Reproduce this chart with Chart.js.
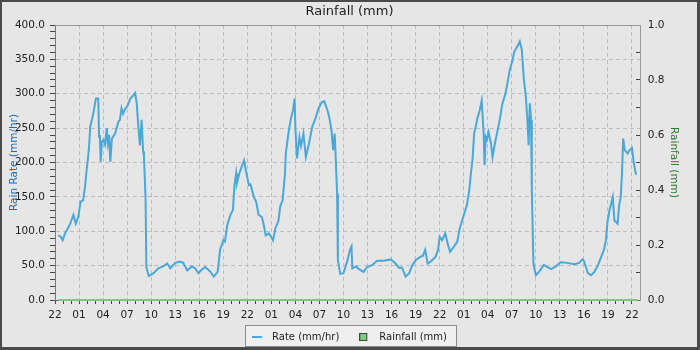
<!DOCTYPE html>
<html>
<head>
<meta charset="utf-8">
<title>Rainfall (mm)</title>
<script src="https://cdn.jsdelivr.net/npm/chart.js@4.4.1/dist/chart.umd.min.js"></script>
<style>
  html, body { margin: 0; padding: 0; background: #e6e6e6; }
  #frame {
    width: 700px; height: 350px; box-sizing: border-box;
    border-style: solid; border-color: #4a4a4a; border-width: 2px 3px 3px 2px;
    background: #e6e6e6;
  }
  canvas { display: block; }
</style>
</head>
<body>
<div id="frame"><canvas id="chart" width="695" height="345"></canvas></div>
<script>
// hours counted from 22:00 on the first day
const rateHours = [
  0.4, 0.7, 0.96, 1.25, 1.6, 1.9, 2.3, 2.6, 2.9, 3.2, 3.5, 3.75, 3.9, 4.1, 4.25, 4.4, 4.7, 4.9,
  5.1, 5.4, 5.5, 5.6, 5.7, 5.85, 6.05, 6.25, 6.45, 6.6, 6.75, 6.9, 7.1, 7.5, 7.9, 8.1, 8.3, 8.5,
  8.75, 9.0, 9.4, 9.8, 10.0, 10.2, 10.4, 10.6, 10.8, 11.0, 11.1, 11.3, 11.4, 11.7, 12.0, 12.3,
  12.9, 13.5, 14.0, 14.4, 15.0, 15.6, 16.0, 16.5, 17.1, 17.5, 17.9, 18.3, 18.75, 19.4, 19.8,
  20.3, 20.6, 21.0, 21.2, 21.5, 21.9, 22.2, 22.4, 22.6, 22.7, 23.0, 23.3, 23.6, 23.8, 24.2,
  24.4, 24.8, 25.1, 25.4, 25.8, 26.0, 26.3, 26.7, 27.2, 27.5, 27.9, 28.1, 28.4, 28.7, 28.8,
  29.1, 29.4, 29.7, 29.9, 30.0, 30.2, 30.5, 30.7, 31.0, 31.3, 31.7, 32.1, 32.5, 32.9, 33.3,
  33.6, 34.0, 34.2, 34.5, 34.7, 34.9, 35.0, 35.2, 35.3, 35.6, 36.0, 36.5, 36.8, 37.0, 37.1,
  37.6, 37.8, 38.5, 38.95, 39.6, 40.2, 41.0, 41.9, 42.5, 42.9, 43.3, 43.75, 44.2, 44.6, 45.0,
  45.6, 45.9, 46.2, 46.5, 46.9, 47.5, 47.8, 48.0, 48.3, 48.7, 49.0, 49.3, 49.8, 50.2, 50.5,
  50.95, 51.4, 51.7, 51.9, 52.1, 52.3, 52.5, 52.7, 53.0, 53.25, 53.5, 53.6, 53.75, 53.9, 54.1,
  54.4, 54.6, 54.9, 55.2, 55.5, 55.8, 56.2, 56.5, 56.75, 57.1, 57.3, 57.7, 58.0, 58.25, 58.5,
  58.75, 58.95, 59.1, 59.25, 59.4, 59.5, 59.7, 60.0, 60.4, 61.0, 61.4, 61.9, 62.5, 63.1,
  63.95, 64.8, 65.4, 65.8, 66.0, 66.5, 66.9, 67.3, 67.7, 68.1, 68.5, 68.75, 68.95, 69.2, 69.4,
  69.6, 69.8, 70.2, 70.4, 70.6, 70.75, 70.9, 71.1, 71.45, 71.7, 72.0, 72.2, 72.5
];
const rateValues = [
  94, 92, 87, 97, 104, 111, 124, 111, 121, 143, 145, 165, 184, 204, 223, 252, 267, 279,
  293, 293, 237, 240, 201, 230, 233, 226, 250, 228, 240, 201, 235, 242, 259, 262, 279, 271,
  278, 281, 293, 298, 301, 286, 252, 225, 262, 216, 210, 148, 48, 35, 37, 39,
  46, 49, 53, 46, 54, 56, 54, 43, 49, 46, 39, 44, 48, 41, 34,
  41, 73, 87, 85, 109, 124, 131, 167, 184, 170, 184, 194, 203, 189, 167,
  168, 150, 143, 124, 121, 112, 94, 97, 87, 104, 116, 136, 145, 184, 213,
  240, 262, 276, 293, 250, 206, 237, 224, 242, 208, 228, 252, 264, 279, 288,
  289, 276, 267, 247, 218, 242, 216, 155, 58, 38, 39, 58, 73, 78, 46,
  49, 46, 41, 48, 51, 57, 57, 59, 53, 47, 47, 34, 39, 51, 58,
  63, 64, 73, 53, 56, 63, 73, 92, 87, 97, 82, 70, 78, 85, 104,
  121, 138, 160, 184, 204, 242, 252, 264, 276, 290, 240, 196, 237, 233, 244,
  228, 208, 228, 245, 262, 284, 300, 318, 335, 349, 361, 369, 376, 364, 322,
  296, 262, 225, 286, 262, 160, 53, 36, 41, 51, 48, 45, 49, 55,
  54, 52, 54, 59, 57, 39, 36, 41, 49, 61, 73, 87, 114, 131, 140,
  150, 116, 111, 138, 150, 184, 235, 218, 213, 218, 221, 201, 182
];
const rainHours = [0.4, 12, 24, 36, 48, 60, 72.7];
const rainValues = [0, 0, 0, 0, 0, 0, 0];

// one label every 3 hours, starting at hour 0
const hourLabels = [
  "22", "01", "04", "07", "10", "13", "16", "19",
  "22", "01", "04", "07", "10", "13", "16", "19",
  "22", "01", "04", "07", "10", "13", "16", "19", "22"
];

Chart.defaults.font.family = "'DejaVu Sans', sans-serif";
Chart.defaults.font.size = 10.5;
Chart.defaults.color = "#222";

const GRID = "#bdbdbd";
const NONE = "rgba(0,0,0,0)";

// small pictures used as legend markers (drawn at the left of a 15px box)
function marker(w, h, fill, stroke) {
  const c = document.createElement("canvas");
  c.width = 15;
  c.height = h;
  const g = c.getContext("2d");
  g.fillStyle = fill;
  g.fillRect(0, 0, w, h);
  if (stroke) {
    g.strokeStyle = stroke;
    g.lineWidth = 1;
    g.strokeRect(0.5, 0.5, w - 1, h - 1);
  }
  return c;
}
const legendMarkers = [marker(10, 2, "#4aa8d8"), marker(8, 8, "#78d078", "#444")];

// legend frame, top edge of the plot, room for the hour labels
const decorations = {
  id: "decorations",
  afterLayout(chart) {
    chart.scales.x.bottom = 322;
  },
  beforeDraw(chart) {
    const boxes = chart.legend && chart.legend.legendHitBoxes;
    if (!boxes || !boxes.length) return;
    const left = Math.round(Math.min(...boxes.map((b) => b.left)) - 7);
    const right = Math.round(Math.max(...boxes.map((b) => b.left + b.width)) + 9);
    const ctx = chart.ctx;
    ctx.save();
    ctx.fillStyle = "#efefef";
    ctx.fillRect(left, 323, right - left, 22);
    ctx.strokeStyle = "#8c8c8c";
    ctx.lineWidth = 1;
    ctx.strokeRect(left + 0.5, 323.5, right - left, 21);
    ctx.restore();
  },
  beforeDatasetsDraw(chart) {
    const { ctx, chartArea } = chart;
    ctx.save();
    ctx.strokeStyle = "#999";
    ctx.lineWidth = 1;
    ctx.beginPath();
    ctx.moveTo(chartArea.left, chartArea.top + 0.5);
    ctx.lineTo(chartArea.right, chartArea.top + 0.5);
    ctx.stroke();
    ctx.restore();
  },
};

const setTicks = (step, max) => (scale) => {
  const ticks = [];
  for (let i = 0; i * step <= max + 1e-9; i++) ticks.push({ value: +(i * step).toFixed(3) });
  scale.ticks = ticks;
};

new Chart(document.getElementById("chart"), {
  type: "line",
  data: {
    datasets: [
      {
        label: "Rate (mm/hr)",
        data: rateHours.map((h, i) => ({ x: h, y: rateValues[i] })),
        yAxisID: "y",
        borderColor: "#4aa8d8",
        backgroundColor: "#4aa8d8",
        borderWidth: 2,
        pointRadius: 0,
        tension: 0,
        clip: 4,
      },
      {
        label: "Rainfall (mm)",
        data: rainHours.map((h, i) => ({ x: h, y: rainValues[i] })),
        yAxisID: "y1",
        borderColor: "#7cc87c",
        backgroundColor: "#78d078",
        borderWidth: 2,
        pointRadius: 0,
        tension: 0,
        clip: 4,
      },
    ],
  },
  options: {
    responsive: false,
    animation: false,
    events: [],
    layout: { padding: { left: 0, right: 0, top: 0, bottom: -5 } },
    plugins: {
      title: {
        display: true,
        text: "Rainfall (mm)",
        color: "#222",
        font: { size: 13, weight: "normal" },
        padding: { top: 1.5, bottom: 5.9 },
      },
      legend: {
        position: "bottom",
        labels: {
          usePointStyle: true,
          pointStyleWidth: 15,
          padding: 20,
          color: "#222",
          font: { size: 10 },
          generateLabels: (chart) =>
            Chart.defaults.plugins.legend.labels
              .generateLabels(chart)
              .map((item, i) => ({ ...item, pointStyle: legendMarkers[i] })),
        },
      },
      tooltip: { enabled: false },
    },
    scales: {
      x: {
        type: "linear",
        min: 0,
        max: 73,
        afterBuildTicks: setTicks(1, 72),
        afterFit: (scale) => { scale.height = 12; },
        ticks: {
          autoSkip: false,
          maxRotation: 0,
          padding: 5,
          callback: (v) => (v % 3 === 0 ? hourLabels[v / 3] : ""),
        },
        grid: {
          color: (c) => (c.tick && c.tick.value % 3 === 0 ? GRID : NONE),
          tickColor: "#444",
          tickLength: 4,
          tickBorderDash: [],
        },
        border: { color: "#666", dash: [4, 3] },
      },
      y: {
        position: "left",
        min: 0,
        max: 400,
        afterBuildTicks: setTicks(10, 400),
        afterFit: (scale) => { scale.width = 53; },
        ticks: {
          autoSkip: false,
          padding: 5,
          callback: (v) => (v % 50 === 0 ? v.toFixed(1) : ""),
        },
        grid: {
          color: (c) => (c.tick && c.tick.value % 50 === 0 ? GRID : NONE),
          tickColor: "#444",
          tickLength: 5,
          tickBorderDash: [],
        },
        border: { color: "#777", dash: [4, 3] },
        title: {
          display: true,
          text: "Rain Rate (mm/hr)",
          color: "#1f6bab",
          font: { size: 10.5 },
          padding: { top: 6, bottom: 0 },
        },
      },
      y1: {
        position: "right",
        min: 0,
        max: 1,
        afterBuildTicks: setTicks(0.1, 1),
        afterFit: (scale) => { scale.width = 57; },
        ticks: {
          autoSkip: false,
          padding: 11.7,
          callback: (v) => (Math.round(v * 10) % 2 === 0 ? v.toFixed(1) : ""),
        },
        grid: {
          drawOnChartArea: false,
          tickColor: "#444",
          tickLength: -4,
          tickBorderDash: [],
        },
        border: { color: "#999" },
        title: {
          display: true,
          text: "Rainfall (mm)",
          color: "#2b7a2b",
          font: { size: 10.5 },
          padding: { top: 17, bottom: 0 },
        },
      },
    },
  },
  plugins: [decorations],
});
</script>
</body>
</html>
